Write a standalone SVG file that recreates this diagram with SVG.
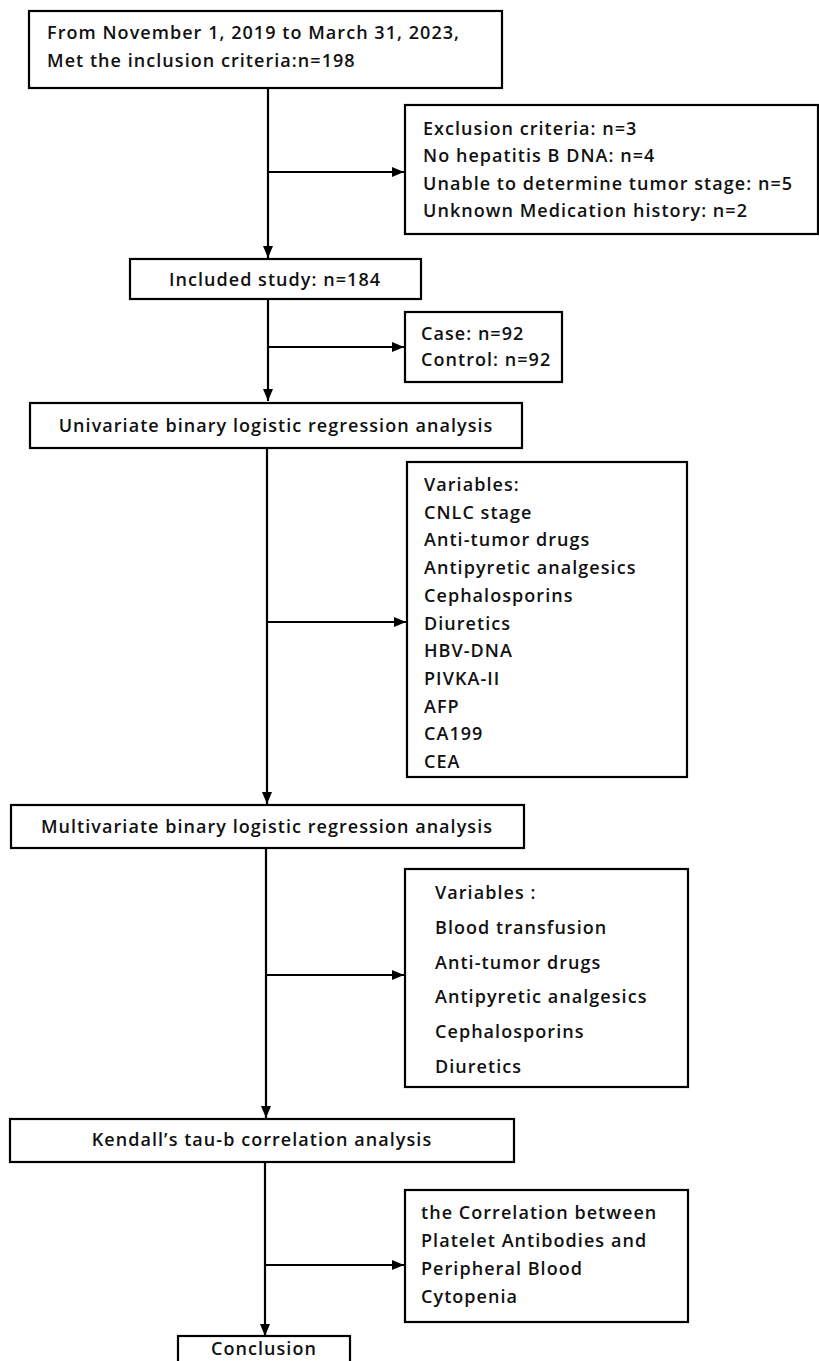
<svg xmlns="http://www.w3.org/2000/svg" width="819" height="1361" viewBox="0 0 819 1361">
<style>
.box{fill:#fff;stroke:#000;stroke-width:2.2}
.t{font-family:"Open Sans","Noto Sans",sans-serif;font-size:18px;font-weight:600;fill:#111;letter-spacing:1.05px}
.c{text-anchor:middle}
.ln{stroke:#000;stroke-width:2.2;fill:none}
</style>
<defs>
<marker id="ah" markerWidth="12" markerHeight="10" refX="12" refY="5" orient="auto" markerUnits="userSpaceOnUse">
<path d="M0,0 L12,5 L0,10 Z" fill="#000"/>
</marker>
</defs>
<rect width="819" height="1361" fill="#fff"/>
<g id="connectors">
<path class="ln" d="M268,88 V258" marker-end="url(#ah)"/>
<path class="ln" d="M268,172 H404" marker-end="url(#ah)"/>
<path class="ln" d="M268,299 V401" marker-end="url(#ah)"/>
<path class="ln" d="M268,347 H404" marker-end="url(#ah)"/>
<path class="ln" d="M267,448 V804" marker-end="url(#ah)"/>
<path class="ln" d="M267,622 H406" marker-end="url(#ah)"/>
<path class="ln" d="M266,848 V1118" marker-end="url(#ah)"/>
<path class="ln" d="M266,975 H404" marker-end="url(#ah)"/>
<path class="ln" d="M265,1162 V1336" marker-end="url(#ah)"/>
<path class="ln" d="M265,1265 H404" marker-end="url(#ah)"/>
</g>
<g id="start">
<rect class="box" x="29" y="11" width="473" height="77"/>
<text class="t" x="47" y="39">From November 1, 2019 to March 31, 2023,</text>
<text class="t" x="47" y="67">Met the inclusion criteria:n=198</text>
</g>
<g id="exclusion">
<rect class="box" x="405" y="105" width="413" height="129"/>
<text class="t" x="423" y="135">Exclusion criteria: n=3</text>
<text class="t" x="423" y="162">No hepatitis B DNA:  n=4</text>
<text class="t" x="423" y="190">Unable to determine tumor stage: n=5</text>
<text class="t" x="423" y="217">Unknown Medication history: n=2</text>
</g>
<g id="included">
<rect class="box" x="130" y="259" width="291" height="40"/>
<text class="t c" x="275" y="286">Included study: n=184</text>
</g>
<g id="groups">
<rect class="box" x="405" y="312" width="157" height="70"/>
<text class="t" x="421" y="340">Case: n=92</text>
<text class="t" x="421" y="366">Control: n=92</text>
</g>
<g id="univariate">
<rect class="box" x="30" y="403" width="492" height="45"/>
<text class="t c" x="276" y="432">Univariate binary logistic regression analysis</text>
</g>
<g id="variables1">
<rect class="box" x="407" y="462" width="280" height="315"/>
<text class="t" x="424" y="491">Variables:</text>
<text class="t" x="424" y="518.7">CNLC stage</text>
<text class="t" x="424" y="546.4">Anti-tumor drugs</text>
<text class="t" x="424" y="574.1">Antipyretic analgesics</text>
<text class="t" x="424" y="601.8">Cephalosporins</text>
<text class="t" x="424" y="629.5">Diuretics</text>
<text class="t" x="424" y="657.2">HBV-DNA</text>
<text class="t" x="424" y="684.9">PIVKA-II</text>
<text class="t" x="424" y="712.6">AFP</text>
<text class="t" x="424" y="740.3">CA199</text>
<text class="t" x="424" y="768">CEA</text>
</g>
<g id="multivariate">
<rect class="box" x="11" y="805" width="513" height="43"/>
<text class="t c" x="267" y="833">Multivariate binary logistic regression analysis</text>
</g>
<g id="variables2">
<rect class="box" x="405" y="869" width="283" height="218"/>
<text class="t" x="435" y="899">Variables :</text>
<text class="t" x="435" y="933.8">Blood transfusion</text>
<text class="t" x="435" y="968.6">Anti-tumor drugs</text>
<text class="t" x="435" y="1003.4">Antipyretic analgesics</text>
<text class="t" x="435" y="1038.2">Cephalosporins</text>
<text class="t" x="435" y="1073">Diuretics</text>
</g>
<g id="kendall">
<rect class="box" x="10" y="1119" width="504" height="43"/>
<text class="t c" x="262" y="1146">Kendall’s tau-b correlation analysis</text>
</g>
<g id="correlation">
<rect class="box" x="405" y="1190" width="283" height="132"/>
<text class="t" x="421" y="1219">the Correlation between</text>
<text class="t" x="421" y="1247">Platelet Antibodies and</text>
<text class="t" x="421" y="1275">Peripheral Blood</text>
<text class="t" x="421" y="1303">Cytopenia</text>
</g>
<g id="conclusion">
<rect class="box" x="178" y="1336" width="172" height="40"/>
<text class="t c" x="264" y="1355">Conclusion</text>
</g>
</svg>
